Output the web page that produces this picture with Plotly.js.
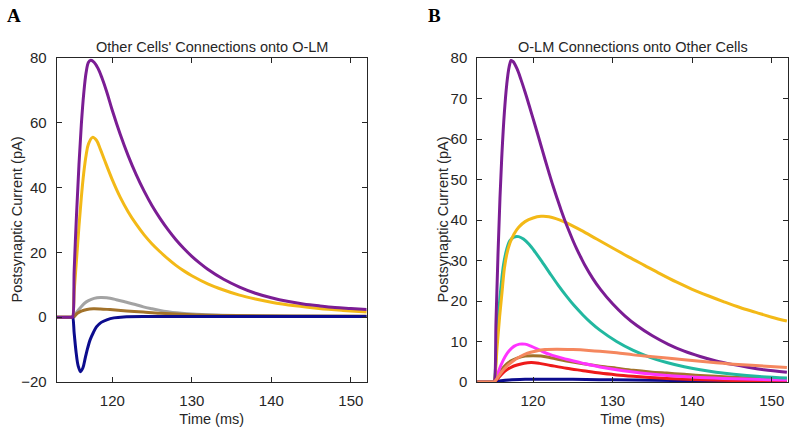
<!DOCTYPE html>
<html>
<head>
<meta charset="utf-8">
<script src="https://cdn.plot.ly/plotly-3.0.1.min.js"></script>
<style>
  html, body { margin: 0; padding: 0; background: #ffffff; }
  #chart { width: 799px; height: 427px; }
</style>
</head>
<body>
<div id="chart"></div>
<script>
//#region data
// panel A: other cells' connections onto O-LM
const aPurpleT = [113, 114, 114.9, 115.0, 115.2, 115.5, 115.8, 116.1, 116.4, 116.7, 117.0, 117.3, 117.7, 118.2, 118.7, 119.3, 120, 121, 122, 123, 124, 125, 126, 127, 128, 129, 130, 131, 132, 134, 136, 138, 140, 142, 144, 146, 148, 150, 152];
const aPurpleV = [0, 0, 0, 0, 14.5, 32, 47, 59.5, 69, 75.5, 78.7, 79.3, 78.7, 76.8, 73.8, 69.5, 63.8, 56.4, 49.8, 44.0, 38.9, 34.4, 30.5, 27.0, 23.9, 21.2, 18.8, 16.7, 14.8, 11.7, 9.3, 7.4, 6.0, 4.9, 4.1, 3.5, 3.0, 2.7, 2.4];

const aYellowT = [113, 114, 114.9, 115.0, 115.2, 115.5, 115.8, 116.1, 116.4, 116.7, 117.0, 117.5, 118.0, 118.5, 119, 120, 121, 122, 123, 124, 125, 126, 127, 128, 129, 130, 132, 134, 136, 138, 140, 143, 146, 149, 152];
const aYellowV = [0, 0, 0, 0, 8, 18, 28, 37, 44.5, 50, 53.5, 55.5, 54.6, 51.8, 48.6, 42.4, 37.0, 32.5, 28.7, 25.4, 22.6, 20.2, 18.0, 16.0, 14.3, 12.8, 10.3, 8.4, 6.8, 5.6, 4.6, 3.5, 2.7, 2.1, 1.6];

const aGrayT = [113, 114, 115.0, 115.1, 115.5, 116, 116.5, 117, 117.7, 118.5, 119.3, 120.5, 121.8, 122.9, 123.9, 125, 126, 127, 128.1, 130, 133, 138, 145, 152];
const aGrayV = [0, 0, 0, 0, 1.5, 3.0, 4.3, 5.1, 5.8, 6.1, 6.0, 5.4, 4.6, 3.9, 3.2, 2.6, 2.1, 1.7, 1.35, 0.95, 0.65, 0.45, 0.35, 0.3];

const aBrownT = [113, 114, 115.0, 115.1, 115.6, 116.1, 116.8, 117.6, 118.5, 119.7, 121.8, 123.9, 126, 128.1, 131, 135, 142, 152];
const aBrownV = [0, 0, 0, 0, 1.2, 1.9, 2.4, 2.6, 2.55, 2.35, 1.95, 1.6, 1.25, 1.0, 0.7, 0.5, 0.35, 0.3];

const aNavyT = [114.9, 115.0, 115.2, 115.45, 115.7, 116.0, 116.3, 116.6, 116.9, 117.2, 117.6, 118.0, 118.6, 119.3, 120.2, 121.4, 125, 135, 152];
const aNavyV = [0, 0, -5, -11, -15, -16.8, -15.6, -12.5, -9.5, -7, -4.8, -3.0, -1.6, -0.8, -0.2, 0.1, 0.2, 0.2, 0.2];

// panel B: O-LM connections onto other cells
const bPurpleT = [113, 114, 115.0, 115.1, 115.35, 115.6, 115.85, 116.1, 116.4, 116.7, 117.0, 117.25, 117.5, 118, 118.5, 119, 119.5, 120, 120.5, 121, 121.5, 122, 122.5, 123, 123.5, 124, 124.5, 125, 125.5, 126, 126.5, 127.5, 128.5, 130, 131.5, 133, 135, 137, 139, 141, 143, 145, 147, 149, 151.9];
const bPurpleV = [0, 0, 0, 0, 15, 31.5, 45.5, 56.5, 66.5, 73.5, 77.8, 79.4, 79.1, 77.3, 74.6, 71.6, 68.4, 65.1, 61.8, 58.4, 55.0, 51.7, 48.5, 45.5, 42.6, 39.9, 37.4, 35.0, 32.8, 30.8, 28.9, 25.6, 22.8, 19.3, 16.4, 14.0, 11.4, 9.3, 7.6, 6.3, 5.2, 4.35, 3.65, 3.05, 2.4];

const bYellowT = [113, 114, 115.0, 115.1, 115.5, 115.8, 116.1, 116.4, 116.7, 117.1, 117.6, 118.2, 119, 120, 121, 122, 124, 126, 128, 130, 132, 134, 136, 138, 140, 142, 144, 146, 148, 150, 151.9];
const bYellowV = [0, 0, 0, 0, 9, 16, 22, 28, 31.5, 34.3, 36.5, 38.2, 39.6, 40.5, 40.9, 40.8, 39.5, 37.5, 35.3, 33.1, 30.9, 28.8, 26.7, 24.7, 22.9, 21.3, 19.8, 18.4, 17.2, 16.0, 15.05];

const bTealT = [113, 114, 115.0, 115.1, 115.4, 115.7, 116.0, 116.3, 116.7, 117.1, 117.6, 118.2, 118.8, 119.5, 120.3, 121.2, 122.1, 123.2, 124.2, 125.2, 126.3, 127.3, 128.4, 130.5, 132.6, 134.7, 136.8, 139, 141, 143, 145.2, 148.5, 151.9];
const bTealV = [0, 0, 0, 0, 9, 17.5, 24, 29, 32.8, 34.9, 35.8, 35.9, 35.3, 34.0, 32.0, 29.5, 26.9, 23.8, 21.2, 18.8, 16.5, 14.6, 12.8, 10.0, 7.8, 6.1, 4.8, 3.75, 3.0, 2.4, 1.9, 1.35, 1.0];

const bMagentaT = [113, 114, 115.0, 115.1, 115.5, 116, 116.5, 117, 117.6, 118.3, 119, 119.8, 120.9, 122.1, 124.2, 126.3, 128.4, 130.5, 133.5, 136.8, 141, 145.2, 151.9];
const bMagentaV = [0, 0, 0, 0, 1.8, 4.3, 6.3, 7.7, 8.8, 9.35, 9.35, 8.8, 7.8, 6.8, 5.6, 4.6, 3.7, 3.0, 2.2, 1.6, 1.1, 0.8, 0.5];

const bSalmonT = [113, 114, 115.0, 115.1, 115.6, 116.1, 116.7, 117.5, 118.4, 119.3, 120.3, 121.5, 123, 125, 127, 128.4, 130.5, 132.6, 134.7, 136.8, 139, 141, 143, 145.2, 148.5, 151.9];
const bSalmonV = [0, 0, 0, 0, 1.2, 2.6, 3.9, 5.2, 6.3, 7.1, 7.6, 8.0, 8.1, 8.0, 7.8, 7.6, 7.2, 6.7, 6.3, 5.9, 5.5, 5.1, 4.75, 4.4, 4.0, 3.6];

const bBrownT = [113, 114, 115.0, 115.1, 115.6, 116.1, 116.7, 117.3, 118, 119, 120, 121, 122.2, 124.2, 126.3, 128.4, 130.5, 132.6, 134.7, 136.8, 139, 141, 145, 151.9];
const bBrownV = [0, 0, 0, 0, 1.6, 3.2, 4.5, 5.3, 5.9, 6.4, 6.5, 6.4, 6.0, 5.2, 4.5, 3.9, 3.4, 2.9, 2.5, 2.2, 1.9, 1.6, 1.2, 0.8];

const bRedT = [113, 114, 115.0, 115.1, 115.6, 116.1, 116.7, 117.3, 118, 118.9, 119.8, 120.8, 122.2, 124.2, 126.3, 128.4, 130.5, 132.6, 134.7, 136.8, 140, 145, 151.9];
const bRedV = [0, 0, 0, 0, 0.9, 2.0, 3.0, 3.7, 4.2, 4.65, 4.8, 4.6, 4.1, 3.4, 2.8, 2.2, 1.75, 1.4, 1.1, 0.85, 0.6, 0.4, 0.3];

const bNavyT = [113, 114, 115.0, 115.1, 116, 117, 119, 121, 125, 130, 135, 140, 145, 151.9];
const bNavyV = [0, 0, 0, 0, 0.3, 0.5, 0.65, 0.7, 0.65, 0.55, 0.45, 0.35, 0.25, 0.15];

const aTickVals = [-20, 0, 20, 40, 60, 80];
const bTickVals = [0, 10, 20, 30, 40, 50, 60, 70, 80];
const xTickVals = [120, 130, 140, 150];
//#endregion

//#region styles
const textColor = '#262626';
const fontFamily = '"Liberation Sans", Arial, sans-serif';
const lineWidth = 3;

function curve(x, y, color, xa, ya) {
    return {
        x: x, y: y, xaxis: xa, yaxis: ya, type: 'scatter', mode: 'lines',
        line: { color: color, width: lineWidth, shape: 'spline', smoothing: 1 },
        hoverinfo: 'skip', showlegend: false
    };
}

const titleFont = { family: fontFamily, size: 14.5, color: textColor };
const axisBase = {
    showline: true, linecolor: textColor, linewidth: 1, mirror: 'ticks',
    ticks: 'inside', ticklen: 5, tickwidth: 1, tickcolor: textColor,
    showgrid: false, zeroline: false,
    tickfont: { family: fontFamily, size: 15, color: textColor }
};
const xBase = {
    ...axisBase, range: [113, 152], tickmode: 'array', tickvals: xTickVals,
    ticklabelstandoff: 5,
    title: { text: 'Time (ms)', font: titleFont, standoff: 7 }
};

function note(text, xPx, yPx, font, extra) {
    return { text: text, xref: 'paper', yref: 'paper', x: xPx / 799, y: 1 - yPx / 427, xanchor: 'center', yanchor: 'middle', showarrow: false, font: font, ...extra };
}
const panelFont = { family: '"Liberation Serif", "DejaVu Serif", serif', size: 19, color: '#000000' };
//#endregion

//#region traces
const traces = [
    curve(aYellowT, aYellowV, '#F3B917', 'x', 'y'),
    curve(aGrayT, aGrayV, '#A3A3A3', 'x', 'y'),
    curve(aBrownT, aBrownV, '#A2722A', 'x', 'y'),
    curve(aNavyT, aNavyV, '#0C0C8E', 'x', 'y'),
    curve(aPurpleT, aPurpleV, '#7B1D94', 'x', 'y'),

    curve(bNavyT, bNavyV, '#0C0C8E', 'x2', 'y2'),
    curve(bRedT, bRedV, '#EE1A1A', 'x2', 'y2'),
    curve(bBrownT, bBrownV, '#A2722A', 'x2', 'y2'),
    curve(bMagentaT, bMagentaV, '#FF33FF', 'x2', 'y2'),
    curve(bTealT, bTealV, '#22B8A0', 'x2', 'y2'),
    curve(bYellowT, bYellowV, '#F3B917', 'x2', 'y2'),
    curve(bPurpleT, bPurpleV, '#7B1D94', 'x2', 'y2'),
    curve(bSalmonT, bSalmonV, '#F5875E', 'x2', 'y2')
];
//#endregion

//#region layout
const yDomain = [1 - 382 / 427, 1 - 58 / 427];
const layout = {
    width: 799, height: 427,
    margin: { l: 0, r: 0, t: 0, b: 0 },
    paper_bgcolor: '#ffffff', plot_bgcolor: '#ffffff',
    font: { family: fontFamily, color: textColor },
    xaxis: { ...xBase, domain: [56.7 / 799, 366.7 / 799], anchor: 'y' },
    yaxis: { ...axisBase, domain: yDomain, anchor: 'x', range: [-20, 80], tickmode: 'array', tickvals: aTickVals, ticklabelstandoff: 6 },
    xaxis2: { ...xBase, domain: [477.3 / 799, 787.7 / 799], anchor: 'y2' },
    yaxis2: { ...axisBase, domain: yDomain, anchor: 'x2', range: [0, 80], tickmode: 'array', tickvals: bTickVals, ticklabelstandoff: 6 },
    annotations: [
        note("Other Cells' Connections onto O-LM", 211.7, 47, titleFont),
        note('O-LM Connections onto Other Cells', 632.5, 47, titleFont),
        note('Postsynaptic Current (pA)', 16.5, 220, titleFont, { textangle: -90 }),
        note('Postsynaptic Current (pA)', 442.5, 220, titleFont, { textangle: -90 }),
        note('<b>A</b>', 14, 15, panelFont),
        note('<b>B</b>', 434, 15, panelFont)
    ]
};

Plotly.newPlot('chart', traces, layout, { staticPlot: true, displayModeBar: false });
//#endregion
</script>
</body>
</html>
